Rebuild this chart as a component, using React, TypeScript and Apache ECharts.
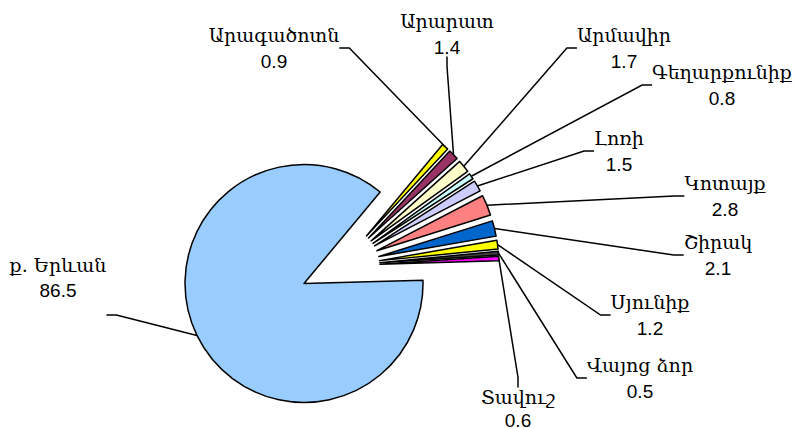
import React, { useEffect, useRef } from 'react';
import * as echarts from 'echarts';

const categories = [
  'Արագածոտն',
  'Արարատ',
  'Արմավիր',
  'Գեղարքունիք',
  'Լոռի',
  'Կոտայք',
  'Շիրակ',
  'Սյունիք',
  'Վայոց ձոր',
  'Տավուշ',
  'ք. Երևան',
];
const values = [0.9, 1.4, 1.7, 0.8, 1.5, 2.8, 2.1, 1.2, 0.5, 0.6, 86.5];
const colors = [
  '#FFFF00', '#993366', '#FFFFCC', '#CCFFFF', '#CCCCFF', '#FF8080',
  '#0066CC', '#FFFF00', '#404040', '#FF00FF', '#99CCFF',
];
// label block centres (layout only)
const labelPos = [
  [274, 47], [447, 33], [624, 47], [722, 84], [619, 150], [725, 195],
  [718, 254], [650, 314], [640, 377], [518, 406], [58, 344],
];

const START_ANGLE = 50.2;
const PIE_CENTER = [340, 266];
const RADIUS = 119;
const EXPLODE = 40;

const makeRich = (vLine: number) => ({
  n: { fontFamily: "'DejaVu Serif'", fontSize: 19, lineHeight: 28, color: '#000' },
  v: { fontFamily: "'Liberation Sans', Arial", fontSize: 19, lineHeight: vLine, color: '#000' },
  e: { fontSize: 10, lineHeight: 135, color: 'rgba(0,0,0,0)' },
});

export default function App() {
  const ref = useRef<HTMLDivElement>(null);
  useEffect(() => {
    if (!ref.current) return;
    const chart = echarts.init(ref.current, null, { renderer: 'svg' });
    const total = values.reduce((a, b) => a + b, 0);
    let cum = 0;
    const series = categories.map((_, k) => {
      const mid = ((START_ANGLE - (360 * (cum + values[k] / 2)) / total) * Math.PI) / 180;
      cum += values[k];
      const center = [
        PIE_CENTER[0] + EXPLODE * Math.cos(mid),
        PIE_CENTER[1] - EXPLODE * Math.sin(mid),
      ];
      const isLast = k === categories.length - 1;
      const isTavush = k === 9;
      return {
        type: 'pie',
        center,
        radius: RADIUS,
        startAngle: START_ANGLE,
        clockwise: true,
        silent: true,
        avoidLabelOverlap: false,
        emphasis: { disabled: true },
        label: {
          show: true,
          position: 'outside',
          formatter: isLast ? '{n|{b}}\n{v|{c}}\n{e| }' : '{n|{b}}\n{v|{c}}',
          color: '#000',
          rich: makeRich(isTavush ? 18 : 24),
        },
        labelLine: {
          show: true,
          length: 20,
          length2: 10,
          minTurnAngle: 0,
          lineStyle: { color: '#000', width: 1.5 },
        },
        labelLayout: (params: any) => {
          const p = labelPos[params.dataIndex];
          return { x: p[0], y: p[1], align: 'center', verticalAlign: 'middle', moveOverlap: false };
        },
        data: categories.map((name, i) =>
          i === k
            ? {
                name,
                value: values[i],
                itemStyle: { color: colors[i], borderColor: '#000', borderWidth: 1.5 },
              }
            : {
                name,
                value: values[i],
                itemStyle: { color: 'rgba(0,0,0,0)', borderWidth: 0 },
                label: { show: false },
                labelLine: { show: false },
              }
        ),
      };
    });
    chart.setOption({
      animation: false,
      backgroundColor: '#ffffff',
      series,
    });
    return () => chart.dispose();
  }, []);
  return (
    <div
      ref={ref}
      style={{ position: 'fixed', left: 0, top: 0, width: 796, height: 429, background: '#fff' }}
    />
  );
}
